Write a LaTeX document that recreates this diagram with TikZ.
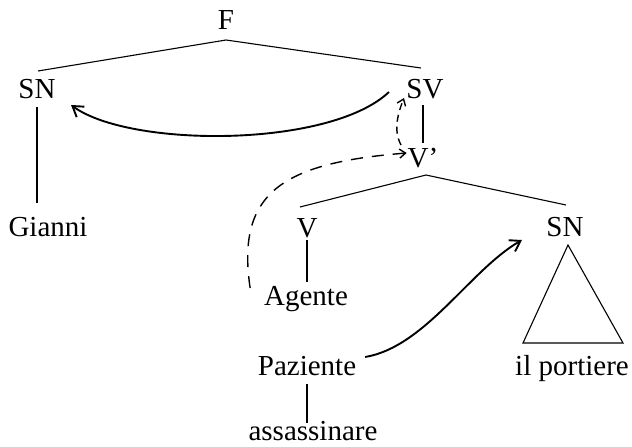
\documentclass[tikz,border=0pt]{standalone}
\usepackage{fontspec}
\setmainfont{Liberation Serif}
\usetikzlibrary{arrows.meta}
\begin{document}
\begin{tikzpicture}[x=1pt,y=-1pt,
  lab/.style={inner sep=0pt, outer sep=0pt, anchor=base, text height=20pt, text depth=0pt, font=\fontsize{29}{32}\selectfont},
  branch/.style={line width=1.1pt},
  solidarrow/.style={line width=1.9pt, -{Straight Barb[length=10pt,width=13pt]}},
  dasharrow/.style={line width=1.4pt, dash pattern=on 12pt off 9pt, -{Straight Barb[length=6pt,width=9pt]}},
  shortdash/.style={line width=1.4pt, dash pattern=on 7pt off 5pt, -{Straight Barb[length=6pt,width=9pt]}},
]
\useasboundingbox (0,0) rectangle (632,447);
% nodes
\node[lab] (F) at (226,29) {F};
\node[lab] (SNa) at (37,98) {SN};
\node[lab] (SV) at (425,98) {SV};
\node[lab] (Vb) at (423,167) {V'};
\node[lab] (Gi) at (48,236) {Gianni};
\node[lab] (V) at (307,237) {V};
\node[lab] (SNb) at (565,236) {SN};
\node[lab] (Ag) at (306,305) {Agente};
\node[lab] (Pa) at (307,375) {Paziente};
\node[lab] (Po) at (572,375) {il portiere};
\node[lab] (As) at (313,440) {assassinare};
% tree branches
\draw[branch] ([xshift=1pt,yshift=7pt]SNa.north) -- ([yshift=-11pt]F.south) -- ([xshift=-4pt,yshift=10pt]SV.north);
\draw[branch] ([yshift=-9pt]SNa.south) -- ([xshift=-11pt,yshift=13pt]Gi.north);
\draw[branch] ([xshift=-2pt,yshift=-7pt]SV.south) -- ([yshift=4pt]Vb.north);
\draw[branch] ([xshift=-7pt,yshift=10pt]V.north) -- ([xshift=3pt,yshift=-8pt]Vb.south) -- ([xshift=1pt,yshift=11pt]SNb.north);
\draw[branch] ([yshift=-3pt]V.south) -- ([xshift=1pt,yshift=3pt]Ag.north);
\draw[branch] ([yshift=-9pt]Pa.south) -- ([xshift=-6pt,yshift=-3pt]As.north);
\draw[branch] ([xshift=3pt,yshift=-9pt]SNb.south) -- ([xshift=-49pt,yshift=12pt]Po.north) -- ([xshift=51pt,yshift=12pt]Po.north) -- cycle;
% arrows
\draw[solidarrow] ([xshift=-17.5pt,yshift=-4pt]SV.west) .. controls +(-59,56) and +(59,43) .. ([xshift=15.5pt,yshift=-17pt]SNa.east);
\draw[solidarrow] ([xshift=9pt,yshift=8pt]Pa.east) .. controls +(60,-10) and +(-52,30) .. ([xshift=-24.5pt,yshift=-14pt]SNb.west);
\draw[dasharrow] ([xshift=-14pt,yshift=7pt]Ag.west) .. controls +(-14,-95) and +(-125,10) .. ([xshift=-1pt,yshift=4pt]Vb.west);
\draw[shortdash] ([xshift=-22pt,yshift=2pt]Vb.north) .. controls +(-8,-15) and +(-6,15) .. ([xshift=-21pt,yshift=0pt]SV.south);
\end{tikzpicture}
\end{document}
